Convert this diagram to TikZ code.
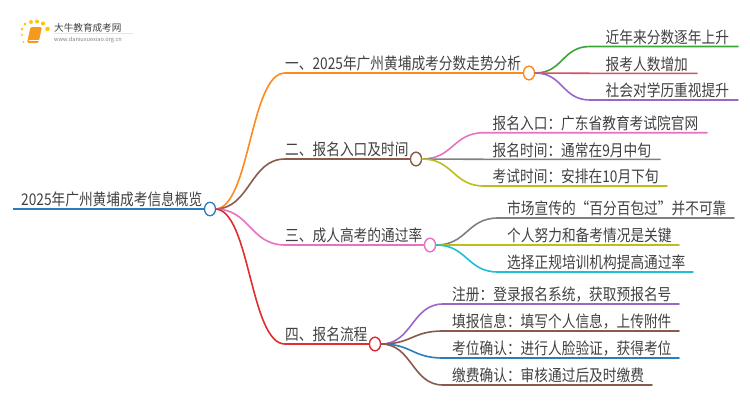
\documentclass[tikz,border=0pt]{standalone}
\usepackage{fontspec}
\setmainfont{Noto Sans CJK SC}
\usetikzlibrary{shapes.geometric}
\definecolor{inkgray}{HTML}{404040}
\definecolor{mapblue}{HTML}{2A7DBE}
\definecolor{maporange}{HTML}{FF8A1C}
\definecolor{mapbrown}{HTML}{8A5A4E}
\definecolor{mappink}{HTML}{E871C4}
\definecolor{mapred}{HTML}{DE2E2E}
\definecolor{mapgreen}{HTML}{3AA63A}
\definecolor{maprose}{HTML}{D9505A}
\definecolor{mappurple}{HTML}{9A67C8}
\definecolor{mapgray}{HTML}{808080}
\definecolor{mapolive}{HTML}{BDBD22}
\definecolor{mapcyan}{HTML}{1FBFD2}
\definecolor{bookorange}{HTML}{F59A1E}
\tikzset{
    hub/.style={ellipse,draw=#1,fill=white,line width=1.3pt,minimum width=11pt,minimum height=13.5pt,inner sep=0pt},
    link/.style={line width=1.6pt,line cap=round},
    lab/.style={anchor=base west,inner sep=0pt,text=inkgray,font=\fontsize{13.7}{16}\selectfont,yscale=1.18,transform shape},
}
\begin{document}
\begin{tikzpicture}[x=1pt,y=-1pt]
    \useasboundingbox (0,0) rectangle (750,410);
    % logo
    \foreach \x/\y/\r in {23.5/42/1,22/35/1.2,22/29/1.5,25/24/1.7,31/22/2,37/21.5/2,43/23.5/2.1,47.5/29/2.3}
        \fill [bookorange!55!yellow] (\x,\y) circle (\r);
    \fill [bookorange,rounded corners=1.5pt] (30.5,27) -- (42,27) -- (38.5,43) -- (27,43) -- cycle;
    \draw [white,line width=0.5pt] (28.5,40.5) -- (38.5,40.5);
    \path (54,31) node [anchor=base west,inner sep=0pt,text=inkgray,font=\fontsize{9.6}{11}\selectfont] (logoname) {大牛教育成考网};
    \path (54,41) node [anchor=base west,inner sep=0pt,text=mapgray,font=\fontsize{5.6}{7}\selectfont] (logourl) {www.daniuxuexiao.org.cn};
    \draw [black!10,line width=0.5pt] (54,33.5) -- (133,33.5);

    % main branches
    \coordinate (start) at (13,209);
    \path (21,205.7) node [lab] (roottext) {2025年广州黄埔成考信息概览};
    \foreach \n/\x/\y/\c/\t in {
        a/529/73/maporange/一、2025年广州黄埔成考分数走势分析,
        b/416/159/mapbrown/二、报名入口及时间,
        c/430/245/mappink/三、成人高考的通过率,
        d/375/344/mapred/四、报名流程}
        {\path (\x,\y) node [hub=\c] (\n) {};
        \coordinate (\n in) at (285,\y);
        \path (285,\y-3.3) node [lab] (\n text) {\t};}
    \draw [mapblue,line width=2pt] (start) -- (210,209);
    \foreach \n/\c in {a/maporange,b/mapbrown,c/mappink,d/mapred}
        \draw [link,\c] (215,209) .. controls +(35,0) and +(-35,0) .. (\n in) -- (\n);
    \path (210,209) node [hub=mapblue] (root) {};
    \foreach \n/\c in {a/maporange,b/mapbrown,c/mappink,d/mapred}
        \path (\n) node [hub=\c] {};

    % leaves of a
    \foreach \n/\y/\xe/\c/\t in {
        a1/46.5/738/mapgreen/近年来分数逐年上升,
        a2/73.3/697/maprose/报考人数增加,
        a3/100/738/mappurple/社会对学历重视提升}
        {\coordinate (\n end) at (\xe,\y);
        \coordinate (\n in) at (590,\y);
        \path (605.5,\y-3.3) node [lab] (\n) {\t};
        \draw [link,\c] (a.east) .. controls +(28,0) and +(-28,0) .. (\n in) -- (\n end);}

    % leaves of b
    \foreach \n/\y/\xe/\c/\t in {
        b1/132.7/707/mappink/报名入口：广东省教育考试院官网,
        b2/159.3/660/mapgray/报名时间：通常在9月中旬,
        b3/186/667/mapolive/考试时间：安排在10月下旬}
        {\coordinate (\n end) at (\xe,\y);
        \coordinate (\n in) at (484,\y);
        \path (492.5,\y-3.3) node [lab] (\n) {\t};
        \draw [link,\c] (b.east) .. controls +(31,0) and +(-31,0) .. (\n in) -- (\n end);}

    % leaves of c
    \foreach \n/\y/\xe/\c/\t in {
        c1/218/734/mapgray/市场宣传的“百分百包过”并不可靠,
        c2/245/679/mapolive/个人努力和备考情况是关键,
        c3/272/693/mapcyan/选择正规培训机构提高通过率}
        {\coordinate (\n end) at (\xe,\y);
        \coordinate (\n in) at (498,\y);
        \path (507,\y-3.3) node [lab] (\n) {\t};
        \draw [link,\c] (c.east) .. controls +(31,0) and +(-31,0) .. (\n in) -- (\n end);}

    % leaves of d
    \foreach \n/\y/\xe/\c/\t in {
        d1/304/679/mappurple/注册：登录报名系统，获取预报名号,
        d2/331/679/mapbrown/填报信息：填写个人信息，上传附件,
        d3/358/679/mapblue/考位确认：进行人脸验证，获得考位,
        d4/385/652/mapbrown/缴费确认：审核通过后及时缴费}
        {\coordinate (\n end) at (\xe,\y);
        \coordinate (\n in) at (443,\y);
        \path (452,\y-3.3) node [lab] (\n) {\t};
        \draw [link,\c] (d.east) .. controls +(31,0) and +(-31,0) .. (\n in) -- (\n end);}
\end{tikzpicture}
\end{document}
